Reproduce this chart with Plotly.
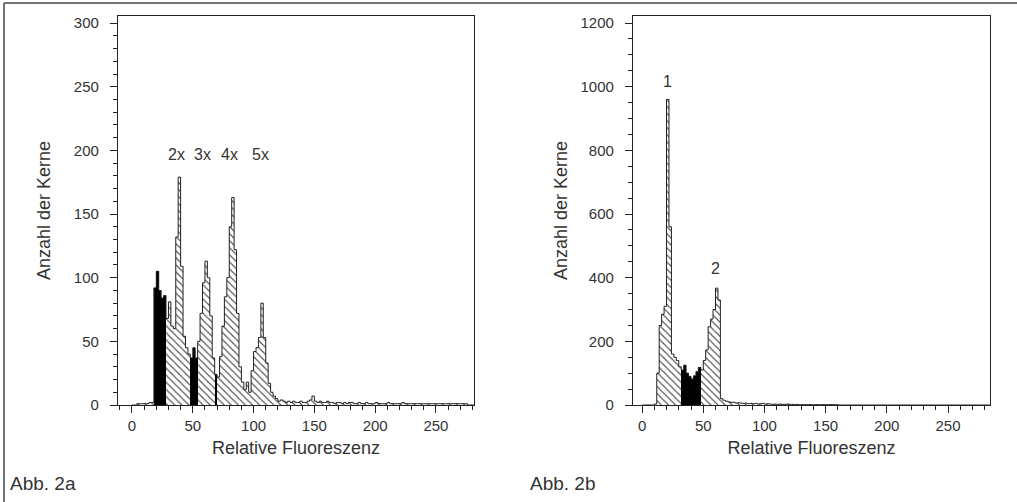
import plotly.graph_objects as go

# ---------------- data ----------------
BIN_W = 2
left_bins = list(range(0, 284, 2))
left_counts = [
    0, 0, 1, 1, 1, 1, 1, 2, 2,
    92, 105, 90, 84, 86,
    68, 81, 62, 60, 132, 179, 109, 54, 45, 40,
    37, 45, 37,
    50, 72, 96, 113, 100, 70, 37,
    24,
    22, 38, 62, 85, 100, 140, 163, 122, 72, 30, 18, 12, 18, 10, 27, 42, 45, 53, 80, 53, 33, 17, 10, 7, 5, 3,
    4, 3, 2, 3, 2, 3, 2, 2, 3, 2, 2, 3, 4, 7, 3, 2, 3, 2, 2, 3, 2, 2, 1, 2, 2, 1, 2, 1, 2, 2,
    1, 1, 2, 1, 1, 2, 1, 1, 1, 2, 1, 1, 1, 1, 2, 1, 1, 1, 1, 1, 2, 1, 1, 1, 1, 1, 1, 1, 1, 1,
    1, 1, 1, 1, 1, 1, 1, 1, 1, 1, 1, 1, 1, 1, 1, 1, 1, 0, 0, 0,
]
left_black_bins = [18, 20, 22, 24, 26, 48, 50, 52, 68]

right_bins = list(range(0, 284, 2))
right_counts = [
    0, 0, 0, 0, 0, 3, 100, 250, 285, 310, 960, 560, 160, 150, 140, 120,
    110, 125, 100, 90, 82, 92, 105, 118,
    110, 140, 173, 246, 270, 300, 367, 330, 20, 15, 12, 10, 8, 9, 6, 7, 6, 5, 6, 4, 5, 4, 5, 3, 4, 5,
    3, 4, 3, 2, 3, 2, 3, 2, 2, 3, 2, 2, 1, 2, 1, 1, 1, 1, 1, 1, 1, 1, 1, 1, 1, 1, 1, 1, 1, 1,
    0, 0, 0, 0, 0, 0, 0, 0, 0, 0, 0, 0, 0, 0, 0, 0, 0, 0, 0, 0, 0, 0, 0, 0, 0, 0, 0, 0, 0, 0,
    0, 0, 0, 0, 0, 0, 0, 0, 0, 0, 0, 0, 0, 0, 0, 0, 0, 0, 0, 0, 0, 0, 0, 0, 0, 0, 0, 0, 0, 0,
    0, 0,
]
right_black_bins = [32, 34, 36, 38, 40, 42, 44, 46]

x_ticks = [0, 50, 100, 150, 200, 250]
left_y_ticks = [0, 50, 100, 150, 200, 250, 300]
right_y_ticks = [0, 200, 400, 600, 800, 1000, 1200]

left_peak_labels = ["2x", "3x", "4x", "5x"]
left_peak_x = [37, 58, 80, 106]
left_peak_y = [197, 197, 197, 197]
right_peak_labels = ["1", "2"]
right_peak_x = [21, 60]
right_peak_y = [1015, 430]

x_title = "Relative Fluoreszenz"
y_title = "Anzahl der Kerne"
panel_labels = ["Abb. 2a", "Abb. 2b"]

# ---------------- figure ----------------
W, H = 1017, 502
FONT = "Liberation Sans, Arial, sans-serif"
TXT = "#333333"
LINE = "#222222"

fig = go.Figure()


def add_hist(bins, counts, black, xa, ya):
    centers = [b + BIN_W / 2 for b in bins]
    colors = ["black" if b in black else "#505050" for b in bins]
    shapes = ["" if b in black else "\\" for b in bins]
    fig.add_trace(go.Bar(
        x=centers, y=counts, width=BIN_W, xaxis=xa, yaxis=ya,
        marker=dict(color=colors, line=dict(width=0),
                    pattern=dict(shape=shapes, bgcolor="white", size=5,
                                 solidity=0.22, fillmode="replace")),
        showlegend=False, hoverinfo="skip"))
    edges = list(bins) + [bins[-1] + BIN_W]
    ys = list(counts) + [counts[-1]]
    fig.add_trace(go.Scatter(
        x=edges, y=ys, mode="lines", line=dict(shape="hv", color=LINE, width=1),
        xaxis=xa, yaxis=ya, showlegend=False, hoverinfo="skip"))


add_hist(left_bins, left_counts, left_black_bins, "x", "y")
add_hist(right_bins, right_counts, right_black_bins, "x2", "y2")

ydom = [1 - 405 / H, 1 - 16 / H]
common_x = dict(showgrid=False, zeroline=False, showline=True, linecolor=LINE, linewidth=1.3,
                mirror=True, ticks="outside", ticklen=7, tickwidth=1.3, tickcolor=LINE,
                tickvals=x_ticks, tickfont=dict(size=15, color=TXT, family=FONT),
                minor=dict(dtick=10, tick0=0, ticks="outside", ticklen=4, tickcolor=LINE, tickwidth=1),
                title=dict(text=x_title, font=dict(size=18, color=TXT, family=FONT), standoff=8),
                automargin=False)
common_y = dict(showgrid=False, zeroline=False, showline=True, linecolor=LINE, linewidth=1.3,
                mirror=True, ticks="outside", ticklen=7, tickwidth=1.3, tickcolor=LINE,
                tickfont=dict(size=15, color=TXT, family=FONT), ticklabelstandoff=8,
                domain=ydom, automargin=False)

fig.update_layout(
    width=W, height=H, margin=dict(l=0, r=0, t=0, b=0), autosize=False,
    paper_bgcolor="white", plot_bgcolor="white", bargap=0,
    font=dict(family=FONT, color=TXT),
    xaxis=dict(common_x, domain=[118 / W, 474 / W], range=[-11.5, 281.3], anchor="y"),
    yaxis=dict(common_y, range=[0, 305.6], tickvals=left_y_ticks,
               minor=dict(dtick=10, tick0=0, ticks="outside", ticklen=4, tickcolor=LINE, tickwidth=1),
               title=dict(text=y_title, font=dict(size=18, color=TXT, family=FONT), standoff=18),
               anchor="x"),
    xaxis2=dict(common_x, domain=[633 / W, 990 / W], range=[-7.4, 284.3], anchor="y2"),
    yaxis2=dict(common_y, range=[0, 1222], tickvals=right_y_ticks,
                minor=dict(dtick=50, tick0=0, ticks="outside", ticklen=4, tickcolor=LINE, tickwidth=1),
                title=dict(text=y_title, font=dict(size=18, color=TXT, family=FONT), standoff=8),
                anchor="x2"),
)

ann = []
for t, xv, yv in zip(left_peak_labels, left_peak_x, left_peak_y):
    ann.append(dict(text=t, x=xv, y=yv, xref="x", yref="y", showarrow=False,
                    font=dict(size=16, color=TXT, family=FONT)))
for t, xv, yv in zip(right_peak_labels, right_peak_x, right_peak_y):
    ann.append(dict(text=t, x=xv, y=yv, xref="x2", yref="y2", showarrow=False,
                    font=dict(size=16, color=TXT, family=FONT)))
ann.append(dict(text=panel_labels[0], x=8 / W, y=1 - 483 / H, xref="paper", yref="paper",
                xanchor="left", yanchor="middle", showarrow=False,
                font=dict(size=19, color=TXT, family=FONT)))
ann.append(dict(text=panel_labels[1], x=528 / W, y=1 - 483 / H, xref="paper", yref="paper",
                xanchor="left", yanchor="middle", showarrow=False,
                font=dict(size=19, color=TXT, family=FONT)))
fig.update_layout(annotations=ann)

# outer frame (top and left edges)
fig.add_shape(type="line", xref="paper", yref="paper", x0=4 / W, x1=1, y0=1 - 3 / H, y1=1 - 3 / H,
              line=dict(color="#444444", width=1.5))
fig.add_shape(type="line", xref="paper", yref="paper", x0=4 / W, x1=4 / W, y0=0, y1=1 - 3 / H,
              line=dict(color="#444444", width=1.5))

fig.write_html("out.html", config={"displayModeBar": False},
               post_script="document.body.style.margin='0';document.body.style.overflow='hidden';")
